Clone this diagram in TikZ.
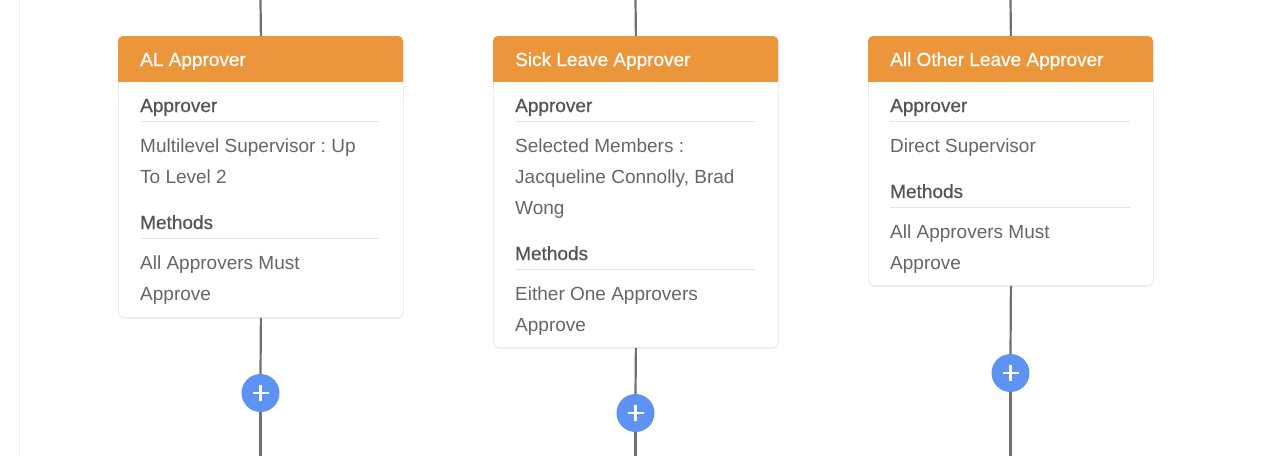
\documentclass[tikz,border=0pt]{standalone}
\usepackage{fontspec}
\setmainfont{Liberation Sans}
\newfontfamily\medfont[FakeBold=0.6]{Liberation Sans}
\usetikzlibrary{shadows}
\definecolor{hdr}{HTML}{EB963A}
\definecolor{bodytxt}{HTML}{666666}
\definecolor{headtxt}{HTML}{555555}
\definecolor{divcol}{HTML}{E4E4E4}
\definecolor{conncol}{HTML}{707070}
\definecolor{plusblue}{HTML}{5E93F4}
\definecolor{bordercol}{HTML}{EEEEEE}
\begin{document}
\frenchspacing
\begin{tikzpicture}[x=1pt,y=-1pt,
  card/.style={draw=black!7, line width=0.8pt, fill=white, rounded corners=5pt, anchor=north west,
    minimum width=285pt, inner sep=0pt,
    drop shadow={shadow xshift=0pt, shadow yshift=-1.5pt, opacity=0.10, fill=black!60}},
  hdrtext/.style={anchor=base west, inner sep=0pt, text=white, font=\medfont\fontsize{19}{23}\selectfont},
  head/.style={anchor=base west, inner sep=0pt, text=headtxt, font=\medfont\fontsize{19}{23}\selectfont},
  txt/.style={anchor=base west, inner sep=0pt, text=bodytxt, font=\fontsize{19}{23}\selectfont},
  divline/.style={draw=divcol, line width=1pt},
  conn/.style={draw=conncol, line width=2.2pt},
  plusbtn/.style={circle, fill=plusblue, minimum size=38pt, inner sep=0pt,
    path picture={
      \draw[white, line width=2.8pt] (path picture bounding box.center) ++(-8pt,0pt) -- ++(16pt,0pt);
      \draw[white, line width=2.8pt] (path picture bounding box.center) ++(0pt,-8pt) -- ++(0pt,16pt);
    }}
]
\useasboundingbox (0,0) rectangle (1281,456);
\fill[white] (0,0) rectangle (1281,456);
\draw[draw=bordercol, line width=1pt] (19.5,0) -- (19.5,456);

% coordinates for free connector ends
\coordinate (t1) at (260.5,0);
\coordinate (t2) at (635.5,0);
\coordinate (t3) at (1010.5,0);
\coordinate (b1) at (260.5,456);
\coordinate (b2) at (635.5,456);
\coordinate (b3) at (1010.5,456);

% plus buttons
\node[plusbtn] (p1) at (260.5,393) {};
\node[plusbtn] (p2) at (635.5,413) {};
\node[plusbtn] (p3) at (1010.5,373) {};

% cards
\node[card, minimum height=281pt] (c1) at (118,36) {};
\node[card, minimum height=311pt] (c2) at (493,36) {};
\node[card, minimum height=249pt] (c3) at (868,36) {};

% connectors
\draw[conn] (t1) -- (c1.north);
\draw[conn] (t2) -- (c2.north);
\draw[conn] (t3) -- (c3.north);
\draw[conn] (c1.south) -- (p1.north);
\draw[conn] (c2.south) -- (p2.north);
\draw[conn] (c3.south) -- (p3.north);
\draw[conn] (p1.south) -- (b1);
\draw[conn] (p2.south) -- (b2);
\draw[conn] (p3.south) -- (b3);

% headers
\foreach \x in {118,493,868}{
  \begin{scope}
    \clip (\x,36) rectangle (\x+285,81);
    \fill[hdr, rounded corners=5pt] (\x,36) rectangle (\x+285,100);
  \end{scope}
}

% card 1
\node[hdrtext] (h1) at (140,66) {AL Approver};
\node[head] (a1) at (140,112) {Approver};
\draw[divline] (140,121) -- (380,121);
\node[txt] (a1l1) at (140,152) {Multilevel Supervisor : Up};
\node[txt] (a1l2) at (140,183) {To Level 2};
\node[head] (m1) at (140,229) {Methods};
\draw[divline] (140,238) -- (380,238);
\node[txt] (m1l1) at (140,269) {All Approvers Must};
\node[txt] (m1l2) at (140,300) {Approve};

% card 2
\node[hdrtext] (h2) at (515,66) {Sick Leave Approver};
\node[head] (a2) at (515,112) {Approver};
\draw[divline] (515,121) -- (755,121);
\node[txt] (a2l1) at (515,152) {Selected Members :};
\node[txt] (a2l2) at (515,183) {Jacqueline Connolly, Brad};
\node[txt] (a2l3) at (515,214) {Wong};
\node[head] (m2) at (515,260) {Methods};
\draw[divline] (515,269) -- (755,269);
\node[txt] (m2l1) at (515,300) {Either One Approvers};
\node[txt] (m2l2) at (515,331) {Approve};

% card 3
\node[hdrtext] (h3) at (890,66) {All Other Leave Approver};
\node[head] (a3) at (890,112) {Approver};
\draw[divline] (890,121) -- (1130,121);
\node[txt] (a3l1) at (890,152) {Direct Supervisor};
\node[head] (m3) at (890,198) {Methods};
\draw[divline] (890,207) -- (1130,207);
\node[txt] (m3l1) at (890,238) {All Approvers Must};
\node[txt] (m3l2) at (890,269) {Approve};
\end{tikzpicture}
\end{document}
